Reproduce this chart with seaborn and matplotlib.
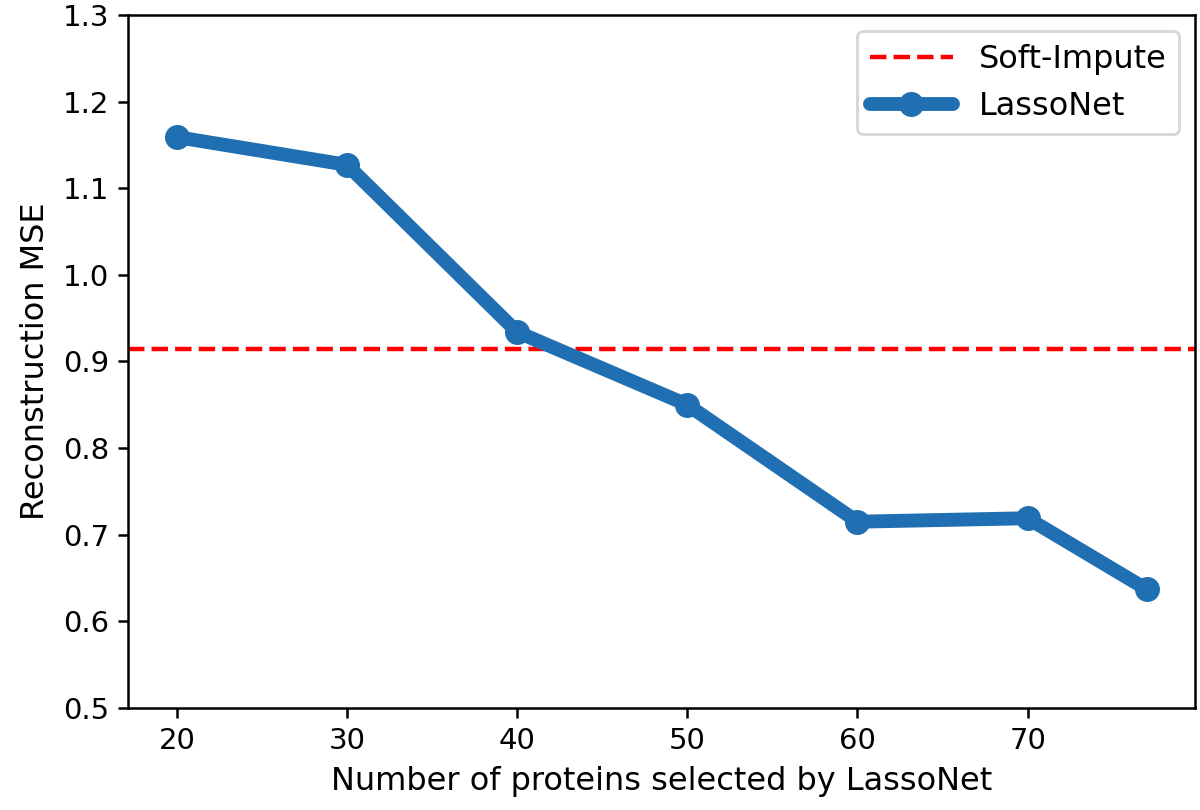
import seaborn as sns
import matplotlib
matplotlib.use("Agg")
import matplotlib.pyplot as plt

sns.set_style("ticks")
plt.rcParams['font.family'] = ['DejaVu Sans']
plt.rcParams['font.size'] = 10.5
plt.rcParams['text.color'] = 'black'
plt.rcParams['axes.labelcolor'] = 'black'

n_proteins = [20, 30, 40, 50, 60, 70, 77]
lassonet_mse = [1.159, 1.127, 0.934, 0.850, 0.715, 0.719, 0.637]
soft_impute_mse = 0.914

fig, ax = plt.subplots(figsize=(6, 4.05))
fig.subplots_adjust(left=0.107, right=0.996, top=0.9815, bottom=0.126)

ax.axhline(soft_impute_mse, color='red', linestyle='--', linewidth=1.6,
           label='Soft-Impute')
sns.lineplot(x=n_proteins, y=lassonet_mse, ax=ax, color='#1f6fb2',
             linewidth=5, marker='o', markersize=9, markeredgewidth=0,
             label='LassoNet')

ax.set_ylim(0.5, 1.3)
ax.set_xticks([20, 30, 40, 50, 60, 70])
ax.set_yticks([0.5, 0.6, 0.7, 0.8, 0.9, 1.0, 1.1, 1.2, 1.3])
ax.set_xlabel('Number of proteins selected by LassoNet', fontsize=11.5)
ax.set_ylabel('Reconstruction MSE', fontsize=11.5)
for s in ax.spines.values():
    s.set_color('black')
    s.set_linewidth(0.9)
ax.tick_params(colors='black', direction='out', length=3.5, width=0.9,
               labelsize=10.5)
ax.legend(loc='upper right', frameon=True, fontsize=11.5, handlelength=2.6)

plt.savefig('out.png', dpi=200)
